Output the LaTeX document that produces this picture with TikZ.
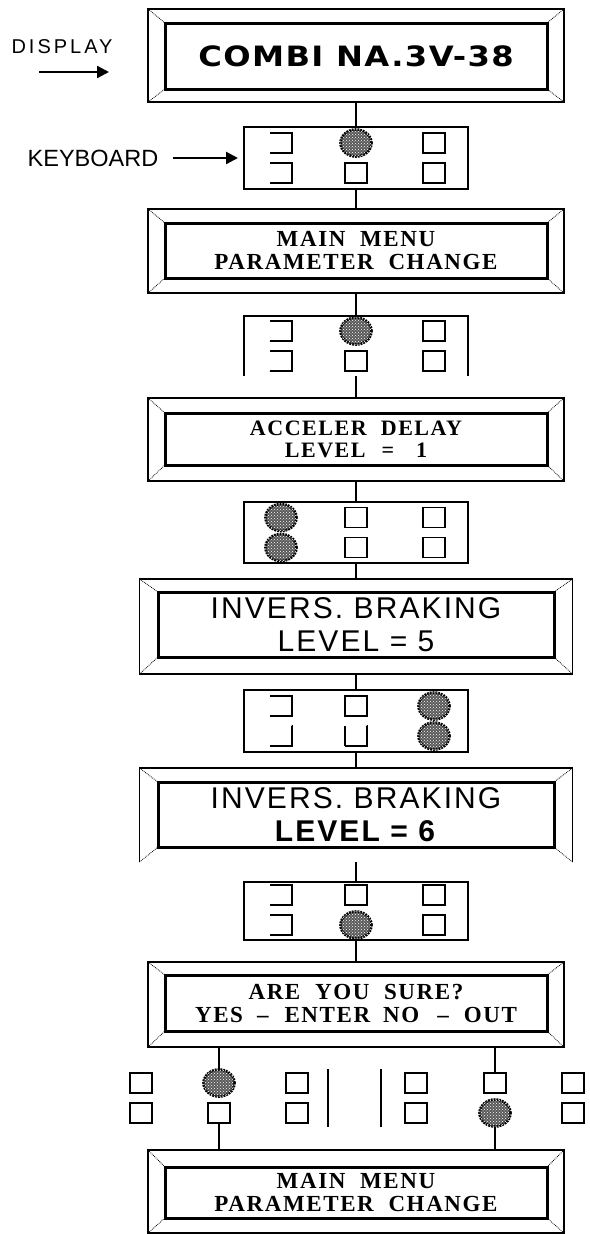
\documentclass[tikz,border=0pt]{standalone}
\usepackage{fontspec}
\setmainfont{Liberation Sans}
\newfontfamily\lcdserif[LetterSpace=7]{Liberation Serif}
\newfontfamily\lcdsans[LetterSpace=7]{Liberation Sans}
\newfontfamily\lblfont[LetterSpace=15]{Liberation Sans}
\newfontfamily\lcdheavy[LetterSpace=5,FakeStretch=1.15]{DejaVu Sans}
\usetikzlibrary{arrows.meta,shapes.geometric,patterns}

\begin{document}
\begin{tikzpicture}[x=1pt, y=-1pt,
  scrframe/.style={draw, line width=1.4pt, minimum width=416, inner sep=0pt, outer sep=0pt},
  screen/.style={draw, line width=3pt, minimum width=382, inner sep=0pt, outer sep=0pt, align=center},
  bevel/.style={line width=0.8pt, densely dotted},
  kbd/.style={draw, line width=1.3pt, minimum width=224, minimum height=61, inner sep=0pt, outer sep=0pt},
  btn/.style={draw, line width=1.2pt, minimum width=22, minimum height=20, inner sep=0pt, outer sep=0pt},
  btnl/.style={btn, dash pattern=on 64pt off 20pt},
  btnj/.style={btn, dash pattern=on 42pt off 42pt},
  btnu/.style={btn, dash pattern=on 42pt off 22pt on 20pt off 0.1pt},
  btnon/.style={ellipse, draw, line width=2.6pt, dash pattern=on 1.8pt off 1pt, fill=black!65,
    postaction={pattern=crosshatch dots, pattern color=white},
    minimum width=31, minimum height=27, inner sep=0pt, outer sep=0pt},
  link/.style={line width=1.2pt},
  arr/.style={line width=2.2pt, -{Triangle[length=12pt,width=12pt]}},
  serifmsg/.style={font=\lcdserif\bfseries\fontsize{#1}{#1}\selectfont},
  serifmsg/.default=23,
  sansmsg/.style={font=\lcdsans\fontsize{30}{33}\selectfont},
]
\useasboundingbox (0,0) rectangle (589,1234);

% labels on the left
\node[inner sep=0pt, font=\lblfont\fontsize{20}{20}\selectfont] (lbldisp) at (62,47) {DISPLAY};
\coordinate (dtail) at (39,72);
\coordinate (dtip) at (109,72);
\draw[arr] (dtail) -- (dtip);
\node[inner sep=0pt, font=\fontsize{23.5}{23.5}\selectfont] (lblkb) at (93,158) {KEYBOARD};

% displays
\node[scrframe, minimum height=93] (scr1) at (356,55.5) {};
\node[screen, minimum height=66] (scr1-in) at (356,56)
  {\lcdheavy\bfseries\fontsize{28}{28}\selectfont COMBI NA.3V-38};

\node[scrframe, minimum height=84] (scr2) at (356,251) {};
\node[screen, serifmsg, minimum height=55] (scr2-in) at (356,250.5) {MAIN\ \ MENU\\PARAMETER\ \ CHANGE};

\node[scrframe, minimum height=83] (scr3) at (356,439.5) {};
\node[screen, serifmsg=22, minimum height=52] (scr3-in) at (356,439)
  {ACCELER\ \ DELAY\\LEVEL\hspace{16pt}=\hspace{22pt}1};

\node[scrframe, minimum width=433, minimum height=95] (scr4) at (356,626.5) {};
\node[screen, sansmsg, minimum width=396, minimum height=65] (scr4-in) at (356,624.5) {INVERS. BRAKING\\LEVEL = 5};

\node[scrframe, minimum width=433, minimum height=94, dash pattern=on 0pt off 433pt on 700pt] (scr5) at (356,815) {};
\node[screen, sansmsg, minimum width=396, minimum height=65] (scr5-in) at (356,814.5) {INVERS. BRAKING\\\textbf{LEVEL = 6}};

\node[scrframe, minimum height=85] (scr6) at (356,1004.5) {};
\node[screen, serifmsg, minimum height=56] (scr6-in) at (356,1003)
  {ARE\ \ YOU\ \ SURE?\\YES\hspace{14pt}–\hspace{16pt}ENTER\hspace{13pt}NO\hspace{18pt}–\hspace{15pt}OUT};

\node[scrframe, minimum height=83] (scr7) at (356,1191.5) {};
\node[screen, serifmsg, minimum height=51] (scr7-in) at (356,1192.5) {MAIN\ \ MENU\\PARAMETER\ \ CHANGE};

\foreach \s in {scr1,scr2,scr3,scr4,scr5,scr6,scr7}
  \foreach \c in {north west,north east,south west,south east}
    \draw[bevel] (\s.\c) -- (\s-in.\c);

% keyboards
\node[kbd, minimum height=62] (kbd1) at (356,158) {};
\foreach \dx/\dy/\t [count=\i] in {-75/-15/btnl, -75/15/btnl, 0/-15/btnon, 0/15/btn, 78/-15/btn, 78/15/btn}
  \node[\t, shift={(\dx,\dy)}] (kbd1-\i) at (kbd1) {};

\node[kbd, minimum height=60, dash pattern=on 0pt off 224pt on 400pt] (kbd2) at (356,346) {};
\foreach \dx/\dy/\t [count=\i] in {-75/-15/btnl, -75/15/btnl, 0/-15/btnon, 0/15/btn, 78/-15/btn, 78/15/btn}
  \node[\t, shift={(\dx,\dy)}] (kbd2-\i) at (kbd2) {};

\node[kbd] (kbd3) at (356,532.5) {};
\foreach \dx/\dy/\t [count=\i] in {-75/-15/btnon, -75/15/btnon, 0/-15/btn, 0/15/btn, 78/-15/btn, 78/15/btn}
  \node[\t, shift={(\dx,\dy)}] (kbd3-\i) at (kbd3) {};

\node[kbd, minimum height=62] (kbd4) at (356,721) {};
\foreach \dx/\dy/\t [count=\i] in {-75/-15/btnl, -75/15/btnj, 0/-15/btn, 0/15/btnu, 78/-15/btnon, 78/15/btnon}
  \node[\t, shift={(\dx,\dy)}] (kbd4-\i) at (kbd4) {};

\node[kbd, minimum height=58] (kbd5) at (356,911) {};
\foreach \dx/\dy/\t [count=\i] in {-75/-16/btnl, -75/14/btnl, 0/-16/btn, 0/14/btnon, 78/-16/btn, 78/14/btn}
  \node[\t, shift={(\dx,\dy)}] (kbd5-\i) at (kbd5) {};

% yes / no keys under the question
\foreach \dx/\dy/\t [count=\i] in {-78/-15/btn, -78/15/btn, 0/-15/btnon, 0/15/btn, 78/-15/btn, 78/15/btn}
  \node[\t, shift={(\dx,\dy)}] (yes\i) at (219,1098) {};
\foreach \dx/\dy/\t [count=\i] in {-79/-15/btn, -79/15/btn, 0/-15/btn, 0/15/btnon, 78/-15/btn, 78/15/btn}
  \node[\t, shift={(\dx,\dy)}] (no\i) at (495,1098) {};
\draw[line width=1.8pt] (328,1069) -- (328,1127);
\draw[line width=1.8pt] (381,1069) -- (381,1127);

% connectors
\draw[arr, shorten <=15pt, shorten >=6pt] (lblkb) -- (kbd1);
\foreach \a/\b in {scr1/kbd1, kbd1/scr2, scr2/kbd2, kbd2/scr3, scr3/kbd3, kbd3/scr4,
                   scr4/kbd4, kbd4/scr5, scr5/kbd5, kbd5/scr6}
  \draw[link] (\a) -- (\b);
\draw[link] (scr6.south -| yes3) -- (yes3);
\draw[link] (yes4) -- (yes4 |- scr7.north);
\draw[link] (scr6.south -| no3) -- (no3);
\draw[link] (no4) -- (no4 |- scr7.north);
\end{tikzpicture}
\end{document}
